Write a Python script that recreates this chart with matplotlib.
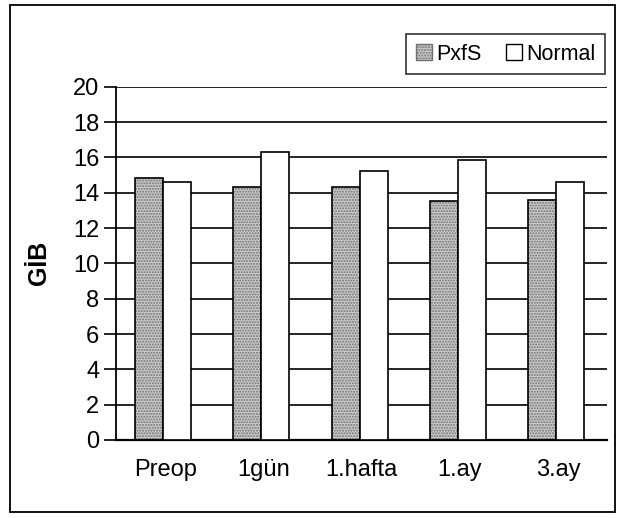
import numpy as np
import matplotlib
matplotlib.use("Agg")
import matplotlib.pyplot as plt
from matplotlib.patches import Rectangle, Patch

plt.rcParams['font.family'] = ['Liberation Sans', 'DejaVu Sans']

categories = ["Preop", "1gün", "1.hafta", "1.ay", "3.ay"]
pxfs = [14.85, 14.35, 14.35, 13.55, 13.6]
normal = [14.6, 16.3, 15.2, 15.85, 14.6]
series_names = ["PxfS", "Normal"]
yticks = list(range(0, 21, 2))

fig = plt.figure(figsize=(6.22, 5.18), dpi=100)
fig.patch.set_facecolor("white")

# outer frame around the whole chart
fig.add_artist(Rectangle((10 / 622, 6 / 518), 605 / 622, 507 / 518,
                         transform=fig.transFigure, fill=False,
                         edgecolor="black", linewidth=1.3))

ax = fig.add_axes([116 / 622, 78 / 518, 491 / 622, 353.3 / 518])

x = np.arange(len(categories))
w = 0.285
off = 0.02

# stippled fill for PxfS, then outline on top
ax.bar(x - w / 2 - off, pxfs, w, color="#cbcbcb", hatch="......",
       edgecolor="#707070", linewidth=0, zorder=2)
ax.bar(x - w / 2 - off, pxfs, w, fill=False, edgecolor="black",
       linewidth=1.2, zorder=3)
ax.bar(x + w / 2 - off, normal, w, color="white", edgecolor="black",
       linewidth=1.2, zorder=3)

ax.set_xlim(-0.5, len(categories) - 0.5)
ax.set_ylim(0, 20)
ax.set_yticks(yticks)
ax.set_xticks(x)
ax.set_xticklabels(categories, fontsize=17)
ax.tick_params(axis="y", direction="out", length=9, width=1.2,
               labelsize=17, pad=3)
ax.tick_params(axis="x", length=0, pad=14)

for yv in yticks[1:]:
    ax.axhline(yv, color="black", linewidth=1.2, zorder=1)

for s in ["top", "right"]:
    ax.spines[s].set_visible(False)
ax.spines["left"].set_linewidth(1.3)
ax.spines["bottom"].set_linewidth(1.6)

ax.set_ylabel("GİB", fontsize=18, fontweight="bold")
ax.yaxis.set_label_coords(-0.132, 0.5)

handles = [Patch(facecolor="#cbcbcb", hatch="......", edgecolor="#707070"),
           Patch(facecolor="white", edgecolor="black")]
leg = fig.legend(handles, series_names, loc="upper right",
                 bbox_to_anchor=(605 / 622, 1 - 34 / 518), ncol=2,
                 fontsize=15.5, frameon=True, fancybox=False,
                 handlelength=0.75, handleheight=0.75, handletextpad=0.2,
                 columnspacing=1.1, borderpad=0.45, borderaxespad=0)
leg.get_frame().set_edgecolor("black")
leg.get_frame().set_linewidth(1.2)

fig.savefig("out.png", dpi=100, facecolor="white")
